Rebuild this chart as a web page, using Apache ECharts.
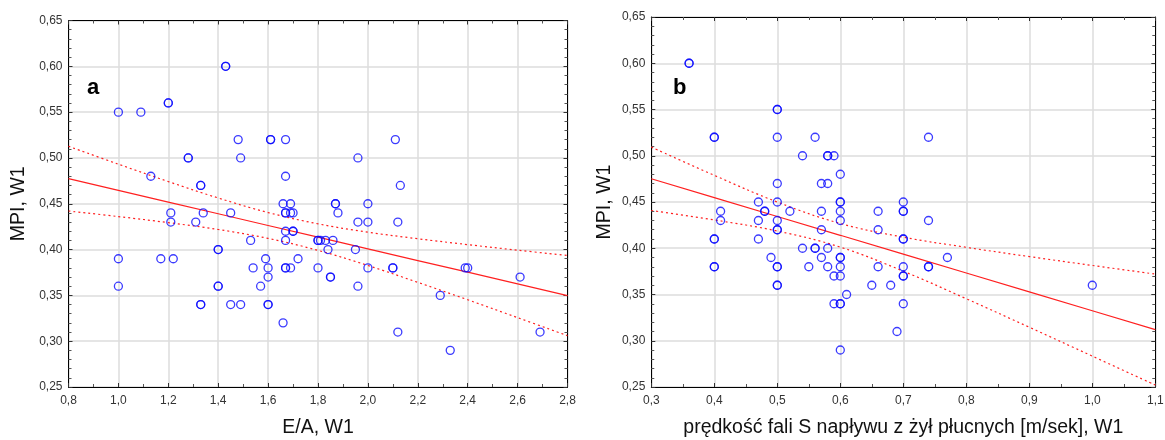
<!DOCTYPE html>
<html>
<head>
<meta charset="utf-8">
<script src="https://cdn.jsdelivr.net/npm/echarts@6/dist/echarts.min.js"></script>
<style>
html,body{margin:0;padding:0;background:#fff;}
#chart{width:1165px;height:440px;}
</style>
</head>
<body>
<div id="chart"></div>
<script>
// Panel a: E/A, W1 vs MPI, W1
var eaX = [1.43,1.43,1.00,1.09,1.20,1.20,1.48,1.61,1.61,1.67,1.28,1.28,1.49,1.13,1.33,1.33,1.67,2.11,1.96,2.13,
  1.66,1.69,1.21,1.34,1.45,1.67,1.67,1.69,1.70,1.21,1.31,1.67,1.70,1.70,1.53,1.67,1.80,1.80,1.40,1.40,
  1.00,1.17,1.22,1.59,1.72,1.54,1.60,1.67,1.67,1.69,1.80,1.60,1.00,1.40,1.40,1.57,1.33,1.33,1.45,1.49,
  1.60,1.60,1.66,1.87,1.87,2.00,1.88,1.96,2.00,2.12,1.81,1.83,1.86,1.84,1.95,2.00,2.10,2.10,2.39,2.40,
  1.85,1.85,2.61,1.96,2.29,2.12,2.69,2.33];
var eaMPI = [0.60,0.60,0.55,0.55,0.56,0.56,0.52,0.52,0.52,0.52,0.50,0.50,0.50,0.48,0.47,0.47,0.48,0.52,0.50,0.47,
  0.45,0.45,0.44,0.44,0.44,0.44,0.44,0.44,0.44,0.43,0.43,0.42,0.42,0.42,0.41,0.41,0.41,0.41,0.40,0.40,
  0.39,0.39,0.39,0.39,0.39,0.38,0.38,0.38,0.38,0.38,0.38,0.37,0.36,0.36,0.36,0.36,0.34,0.34,0.34,0.34,
  0.34,0.34,0.32,0.45,0.45,0.45,0.44,0.43,0.43,0.43,0.41,0.41,0.41,0.40,0.40,0.38,0.38,0.38,0.38,0.38,
  0.37,0.37,0.37,0.36,0.35,0.31,0.31,0.29];
var fitAX     = [0.8,1.0,1.2,1.4,1.6,1.8,2.0,2.2,2.4,2.6,2.8];
var fitALine  = [0.4774,0.4646,0.4518,0.4391,0.4263,0.4136,0.4008,0.3880,0.3753,0.3625,0.3498];
var fitAUpper = [0.5127,0.4932,0.4742,0.4563,0.4404,0.4281,0.4190,0.4118,0.4054,0.3993,0.3936];
var fitALower = [0.4421,0.4360,0.4294,0.4219,0.4122,0.3991,0.3826,0.3642,0.3452,0.3257,0.3060];

// Panel b: S-wave velocity vs MPI, W1
var svX = [0.36,0.36,0.40,0.40,0.50,0.50,0.50,0.56,0.54,0.58,0.58,0.59,0.50,0.57,0.58,0.60,0.74,0.41,0.47,0.50,
  0.60,0.60,0.48,0.48,0.52,0.57,0.60,0.66,0.41,0.47,0.50,0.60,0.50,0.50,0.57,0.66,0.40,0.40,0.47,0.54,
  0.56,0.56,0.58,0.49,0.57,0.60,0.60,0.40,0.40,0.50,0.50,0.55,0.58,0.60,0.66,0.59,0.60,0.50,0.50,0.65,
  0.68,0.61,0.59,0.60,0.60,0.69,0.60,0.70,0.70,0.70,0.74,0.70,0.70,0.77,0.70,0.74,0.74,0.70,0.70,0.70,1.00];
var svMPI = [0.60,0.60,0.52,0.52,0.55,0.55,0.52,0.52,0.50,0.50,0.50,0.50,0.47,0.47,0.47,0.48,0.52,0.44,0.45,0.45,
  0.45,0.45,0.44,0.44,0.44,0.44,0.44,0.44,0.43,0.43,0.43,0.43,0.42,0.42,0.42,0.42,0.41,0.41,0.41,0.40,
  0.40,0.40,0.40,0.39,0.39,0.39,0.39,0.38,0.38,0.38,0.38,0.38,0.38,0.38,0.38,0.37,0.37,0.36,0.36,0.36,
  0.36,0.35,0.34,0.34,0.34,0.31,0.29,0.45,0.44,0.44,0.43,0.41,0.41,0.39,0.38,0.38,0.38,0.37,0.37,0.34,0.36];
var fitBX     = [0.3,0.4,0.5,0.6,0.7,0.8,0.9,1.0,1.1];
var fitBLine  = [0.4751,0.4547,0.4343,0.4140,0.3936,0.3732,0.3528,0.3324,0.3121];
var fitBUpper = [0.5094,0.4788,0.4500,0.4268,0.4120,0.4010,0.3910,0.3814,0.3721];
var fitBLower = [0.4408,0.4306,0.4186,0.4012,0.3752,0.3454,0.3146,0.2834,0.2521];

var yTicks = [0.25,0.65,0.05];

function zip(a,b){ return a.map(function(v,i){ return [v,b[i]]; }); }
function comma(d){ return function(v){ return v.toFixed(d).replace('.', ','); }; }

var FONT = 'Liberation Sans, Arial, sans-serif';
var lineStyleAxis = {color:'#000', width:1};

function mainX(grid, min, max, interval, name){
  return {
    gridIndex: grid, type:'value', position:'bottom', min:min, max:max, interval:interval,
    name:name, nameLocation:'middle', nameGap:31,
    nameTextStyle:{fontFamily:FONT, fontSize:19.5, color:'#111'},
    axisLine:{show:true, onZero:false, lineStyle:lineStyleAxis},
    axisTick:{show:true, inside:true, length:4, lineStyle:{color:'#333'}},
    minorTick:{show:true, splitNumber:2, length:3, lineStyle:{color:'#555'}},
    axisLabel:{formatter:comma(1), fontFamily:FONT, fontSize:12, color:'#333', margin:8},
    splitLine:{show:true, lineStyle:{color:'#dcdcdc', width:1.5}}
  };
}
function topX(grid, min, max, interval){
  return {
    gridIndex: grid, type:'value', position:'top', min:min, max:max, interval:interval,
    axisLine:{show:true, onZero:false, lineStyle:lineStyleAxis},
    axisTick:{show:true, inside:true, length:4, lineStyle:{color:'#333'}},
    minorTick:{show:true, splitNumber:2, length:3, lineStyle:{color:'#555'}},
    axisLabel:{show:false}, splitLine:{show:false}
  };
}
function mainY(grid, nameGap){
  return {
    gridIndex: grid, type:'value', position:'left', min:yTicks[0], max:yTicks[1], interval:yTicks[2],
    name:'MPI, W1', nameLocation:'middle', nameGap:nameGap,
    nameTextStyle:{fontFamily:FONT, fontSize:19.5, color:'#111'},
    axisLine:{show:true, onZero:false, lineStyle:lineStyleAxis},
    axisTick:{show:true, inside:true, length:4, lineStyle:{color:'#333'}},
    minorTick:{show:true, splitNumber:5, length:3, lineStyle:{color:'#555'}},
    axisLabel:{formatter:comma(2), fontFamily:FONT, fontSize:12, color:'#333', margin:6},
    splitLine:{show:true, lineStyle:{color:'#dcdcdc', width:1.5}}
  };
}
function rightY(grid){
  return {
    gridIndex: grid, type:'value', position:'right', min:yTicks[0], max:yTicks[1], interval:yTicks[2],
    axisLine:{show:true, onZero:false, lineStyle:lineStyleAxis},
    axisTick:{show:true, inside:true, length:4, lineStyle:{color:'#333'}},
    minorTick:{show:true, splitNumber:5, length:3, lineStyle:{color:'#555'}},
    axisLabel:{show:false}, splitLine:{show:false}
  };
}

var scatterStyle = {color:'rgba(0,0,0,0)', borderColor:'#0a0aff', borderWidth:1.3};
function scat(xi, yi, data){
  return {type:'scatter', xAxisIndex:xi, yAxisIndex:yi, data:data, symbol:'circle', symbolSize:8,
    itemStyle:scatterStyle, z:5, silent:true, animation:false};
}
function ln(xi, yi, data, dotted){
  return {type:'line', xAxisIndex:xi, yAxisIndex:yi, data:data, showSymbol:false, symbol:'none',
    smooth:dotted ? 0.4 : false,
    lineStyle:{color:'#ff2020', width:1.2, type: dotted ? [2,3] : 'solid'}, z:3, silent:true, animation:false};
}

var chart = echarts.init(document.getElementById('chart'), null, {renderer:'canvas'});
chart.setOption({
  backgroundColor:'#fff',
  animation:false,
  grid:[
    {left:68.5, top:20.5, width:499, height:366.5, outerBoundsMode:'none', containLabel:false},
    {left:651.3, top:17, width:504, height:370, outerBoundsMode:'none', containLabel:false}
  ],
  xAxis:[
    mainX(0, 0.8, 2.8, 0.2, 'E/A, W1'),
    topX(0, 0.8, 2.8, 0.2),
    mainX(1, 0.3, 1.1, 0.1, 'prędkość fali S napływu z żył płucnych [m/sek], W1'),
    topX(1, 0.3, 1.1, 0.1)
  ],
  yAxis:[
    mainY(0, 40),
    rightY(0),
    mainY(1, 37),
    rightY(1)
  ],
  graphic:[
    {type:'text', left:87, top:77, style:{text:'a', font:'bold 22px ' + FONT, fill:'#000'}},
    {type:'text', left:673, top:77, style:{text:'b', font:'bold 22px ' + FONT, fill:'#000'}}
  ],
  series:[
    ln(0,0, zip(fitAX, fitALine), false),
    ln(0,0, zip(fitAX, fitAUpper), true),
    ln(0,0, zip(fitAX, fitALower), true),
    scat(0,0, zip(eaX, eaMPI)),
    ln(2,2, zip(fitBX, fitBLine), false),
    ln(2,2, zip(fitBX, fitBUpper), true),
    ln(2,2, zip(fitBX, fitBLower), true),
    scat(2,2, zip(svX, svMPI))
  ]
});
</script>
</body>
</html>
